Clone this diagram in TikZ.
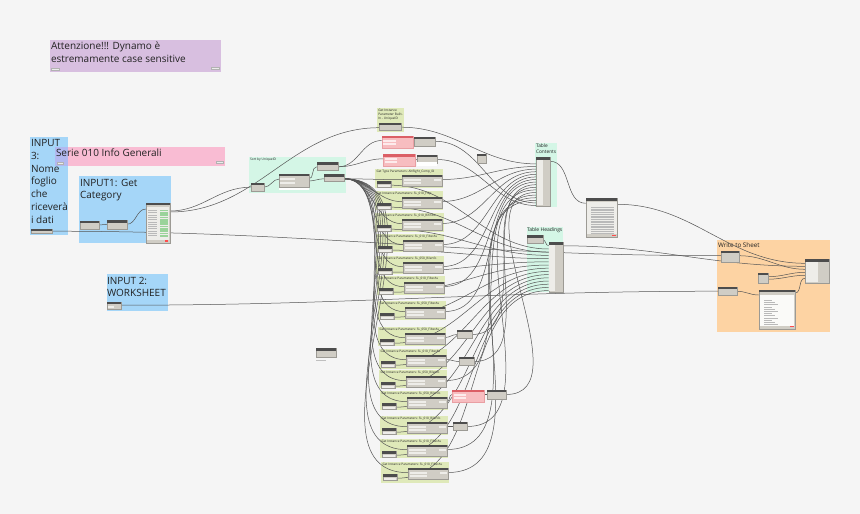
\documentclass[tikz,border=0pt]{standalone}
\usepackage{fontspec}
\setmainfont{Open Sans}
\usetikzlibrary{calc}
\pgfdeclarelayer{bgl}
\pgfdeclarelayer{grp}
\pgfdeclarelayer{wires}
\pgfsetlayers{bgl,grp,wires,main}
\definecolor{bg}{HTML}{F5F5F5}
\definecolor{purp}{HTML}{D8BFE0}
\definecolor{blu}{HTML}{A5D6F8}
\definecolor{pnk}{HTML}{F9BCD3}
\definecolor{ovl}{HTML}{B2B9F0}
\definecolor{mint}{HTML}{D4F6E6}
\definecolor{ygrn}{HTML}{DFE9B9}
\definecolor{orng}{HTML}{FDD3A3}
\definecolor{nbody}{HTML}{D0CDC5}
\definecolor{nhdr}{HTML}{4D4D4D}
\definecolor{fld}{HTML}{EEEDE9}
\definecolor{wirec}{HTML}{555555}
\definecolor{rbody}{HTML}{F7BDC0}
\definecolor{rhdr}{HTML}{DB5F66}
\definecolor{gcell}{HTML}{9AD39A}
\definecolor{txt}{HTML}{222222}
\newcommand\dynnode[5]{%
  \node[dnode, anchor=north west, minimum width={(#4)*1pt}, minimum height={(#5)*1pt}] (#1) at ({#2},{#3}) {};
  \fill[nhdr] (#1.north west) rectangle ([yshift=-2.2pt]#1.north east);
}
\newcommand\rednode[5]{%
  \node[dnode, fill=rbody, draw=rhdr!60, anchor=north west, minimum width={(#4)*1pt}, minimum height={(#5)*1pt}] (#1) at ({#2},{#3}) {};
  \fill[rhdr] (#1.north west) rectangle ([yshift=-2.2pt]#1.north east);
  \fill[white!70!rbody] ([xshift=1.5pt,yshift=-3.6pt]#1.north west) rectangle ([xshift=14pt,yshift=-5.6pt]#1.north west);
  \fill[white!70!rbody] ([xshift=1.5pt,yshift=-6.6pt]#1.north west) rectangle ([xshift=14pt,yshift=-8.6pt]#1.north west);
}
\newcommand\ygroup[6]{%
  \begin{pgfonlayer}{grp}
    \fill[ygrn] ({#2},{#3}) rectangle ({#4},{#5});
    \node[gtitle, font=\fontsize{3.1}{3.7}\selectfont] (#1t) at ({#2+1.5},{#3+1.6}) {#6};
  \end{pgfonlayer}
  \dynnode{#1b}{#2+27}{#3+6}{40}{11}
  \fill[fld] ([xshift=1.5pt,yshift=-3.6pt]#1b.north west) rectangle ([xshift=19pt,yshift=-5.8pt]#1b.north west);
  \fill[fld] ([xshift=1.5pt,yshift=-6.8pt]#1b.north west) rectangle ([xshift=19pt,yshift=-9pt]#1b.north west);
  \fill[fld] ([xshift=-8pt,yshift=-3.6pt]#1b.north east) rectangle ([xshift=-1.5pt,yshift=-5.6pt]#1b.north east);
  \dynnode{#1s}{#2+2}{#3+12}{14}{6.5}
  \fill[nhdr] (#1s.north west) rectangle ([yshift=-3pt]#1s.north east);
  \fill[fld] ([xshift=0.8pt,yshift=-3.8pt]#1s.north west) rectangle ([xshift=-0.8pt,yshift=-5.8pt]#1s.north east);
}
\begin{document}
\begin{tikzpicture}[x=1pt,y=-1pt,
  dnode/.style={rectangle, fill=nbody, draw=nbody!75!black, line width=0.2pt, inner sep=0pt, outer sep=0pt},
  wire/.style={draw=wirec, line width=0.5pt},
  gtitle/.style={inner sep=0pt, outer sep=0pt, anchor=north west, align=left, text=txt},
  bigtxt/.style={gtitle, font=\fontsize{10}{12.6}\selectfont},
  tinybox/.style={fill=white!85!gray, draw=gray!60, line width=0.2pt}
]
\begin{pgfonlayer}{bgl}
\fill[bg] (0,0) rectangle (860,514);
\end{pgfonlayer}
\useasboundingbox (0,0) rectangle (860,514);

% ---------------- groups ----------------
\begin{pgfonlayer}{grp}
\fill[purp] (50,40) rectangle (220.5,72.3);
\filldraw[tinybox] (51.3,67.7) rectangle (59.3,69.7);
\filldraw[tinybox] (211,66.7) rectangle (219,68.9);
\node[bigtxt, font=\fontsize{10}{12.4}\selectfont] (attn) at (51,42.3) {Attenzione!!! Dynamo è\\estremamente case sensitive};

\fill[blu] (30,137.3) rectangle (67.7,234.7);
\fill[pnk] (55,146.7) rectangle (225,166);
\fill[ovl] (55,146.7) rectangle (67.7,166);
\filldraw[tinybox] (56.7,162.3) rectangle (63.3,164.3);
\filldraw[tinybox] (216,161) rectangle (223,163);
\node[bigtxt, font=\fontsize{10}{12.8}\selectfont] (in3t) at (31,139.3) {INPUT\\3:\\Nome\\foglio\\che\\riceverà\\i dati};
\node[bigtxt] (seriet) at (56,149) {Serie 010 Info Generali};

\fill[blu] (79.3,175.7) rectangle (170.7,243.3);
\node[bigtxt, font=\fontsize{10}{12.4}\selectfont] (in1t) at (80,179) {INPUT1: Get\\Category};

\fill[blu] (106.7,274) rectangle (167.7,310.7);
\node[bigtxt, font=\fontsize{10}{11.8}\selectfont] (in2t) at (107,277) {INPUT 2:\\WORKSHEET};

\fill[mint] (249,157) rectangle (346,193);
\node[gtitle, font=\fontsize{3.3}{4}\selectfont] (sortt) at (250,158) {Sort by UniqueID};

\fill[ygrn] (377,108.3) rectangle (404,131.7);
\node[gtitle, font=\fontsize{3.2}{4}\selectfont] (ut) at (378.3,109.5) {Get Instance\\Parameter Built-\\In - UniqueID};

\fill[mint] (535,143) rectangle (557,207);
\node[gtitle, font=\fontsize{4.8}{6}\selectfont] (tct) at (536,144) {Table\\Contents};

\fill[mint] (526.7,226.7) rectangle (563.3,292.3);
\node[gtitle, font=\fontsize{5}{6}\selectfont] (tht) at (527,228) {Table Headings};

\fill[orng] (717,240) rectangle (830,332);
\node[gtitle, font=\fontsize{6.3}{7}\selectfont] (wt) at (718,242.3) {Write to Sheet};
\end{pgfonlayer}

% ---------------- yellow groups ----------------
\ygroup{A}{375}{169}{443}{188}{Get Type Parameters: AltRight\_Comp\_ID}
\ygroup{B}{375}{191}{443}{210}{Get Instance Parameters: SL\_010\_Filtp}
\ygroup{C}{375}{213}{444}{232}{Get Instance Parameters: SL\_010\_RifinRo}
\ygroup{D}{376}{234}{444}{252}{Get Instance Parameters: SL\_010\_FilterAs}
\ygroup{E}{376}{256}{444}{274}{Get Instance Parameters: SL\_050\_Rilenfo}
\ygroup{F}{377}{276}{445}{295}{Get Instance Parameters: SL\_010\_FilterAs}
\ygroup{G}{378}{301}{446}{320}{Get Instance Parameters: SL\_050\_FilterAs}
\ygroup{H}{378}{327}{446}{346}{Get Instance Parameters: SL\_050\_FilterAs}
\ygroup{I}{379}{349}{447}{369}{Get Instance Parameters: SL\_010\_FilterAs}
\ygroup{J}{379}{370}{447}{388}{Get Instance Parameters: SL\_050\_Rilenfo}
\ygroup{K}{380}{391}{448}{410}{Get Instance Parameters: SL\_050\_Rilenfo}
\ygroup{L}{380}{416}{448}{435}{Get Instance Parameters: SL\_010\_Rilenfo}
\ygroup{M}{380}{439}{448}{458}{Get Instance Parameters: SL\_010\_FilterAs}
\ygroup{N}{381}{462}{449}{483}{Get Instance Parameters: SL\_010\_FilterAs}

% ---------------- nodes ----------------
\dynnode{in3}{31}{228.7}{20.7}{4.6}
\dynnode{c1}{80}{221}{19.3}{8.3}
\dynnode{c2}{107.3}{220.3}{19.4}{8.7}
\dynnode{W1}{146}{203}{24}{40.3}
\fill[fld] ([xshift=0.8pt,yshift=-4pt]W1.north west) rectangle ([xshift=-0.8pt,yshift=3pt]W1.south east);
\foreach \r in {0,...,11}{
  \fill[gray!55] ({148},{210+\r*2.3}) rectangle ({157},{211+\r*2.3});
  \fill[gcell] ({160},{209.6+\r*2.3}) rectangle ({168},{211.3+\r*2.3});
}
\fill[red!70] (165,240.3) rectangle (168,241.8);
\dynnode{i2}{107.3}{301.7}{13.7}{7.6}
\fill[fld] ([xshift=0.8pt,yshift=-3.8pt]i2.north west) rectangle ([xshift=7pt,yshift=-5.8pt]i2.north west);

\dynnode{s1}{250.7}{182.7}{13.3}{8}
\dynnode{s2}{279.3}{174}{29.4}{13.3}
\fill[fld] ([xshift=1pt,yshift=-4pt]s2.north west) rectangle ([xshift=16pt,yshift=-6pt]s2.north west);
\fill[fld] ([xshift=1pt,yshift=-7.5pt]s2.north west) rectangle ([xshift=16pt,yshift=-9.5pt]s2.north west);
\fill[white] (279.3,187.6) rectangle (308.7,190.3);
\dynnode{s3}{316.7}{162.3}{21.6}{7.7}
\dynnode{s4}{324}{174.3}{20.3}{6.7}

\dynnode{Ub}{379.3}{122.7}{22}{7.3}
\rednode{r1}{381.7}{136}{31.6}{12.5}
\dynnode{b1}{414}{136.7}{20.7}{9}
\rednode{r2}{383.3}{154.3}{32}{11.4}
\dynnode{b2}{416.7}{155}{20.3}{8}
\fill[white] (416.7,161.5) rectangle (437,165.7);
\dynnode{x1}{477.3}{154}{8.7}{8.7}
\dynnode{x2}{315.7}{348.3}{20.3}{8.4}
\fill[gray!50] (316,359.5) rectangle (326,360.2);

\dynnode{na}{457}{330}{15}{8}
\dynnode{nb}{459}{357}{15}{8.5}
\rednode{rd}{452}{390}{32}{12}
\dynnode{dk}{487}{390}{19}{9}
\dynnode{nc}{453}{422}{14}{8}

\dynnode{TC}{536}{157.3}{14}{48.7}
\fill[fld] ([xshift=0.6pt,yshift=-3pt]TC.north west) rectangle ([xshift=7pt,yshift=1pt]TC.south west);
\dynnode{th0}{526.7}{235.3}{16}{8}
\dynnode{TH}{548.7}{242.3}{14}{50}
\fill[fld] ([xshift=0.6pt,yshift=-3pt]TH.north west) rectangle ([xshift=6.5pt,yshift=1pt]TH.south west);
\dynnode{tbl}{585.7}{198.3}{31.6}{39}
\fill[fld] ([xshift=0.8pt,yshift=-4pt]tbl.north west) rectangle ([xshift=-0.8pt,yshift=3pt]tbl.south east);
\foreach \r in {0,...,15}{
  \fill[gray!55] ({591},{207+\r*1.7}) rectangle ({614},{207.6+\r*1.7});
}
\fill[red!70] (612,234.6) rectangle (615.5,235.8);

\dynnode{w1}{721}{250.7}{18.3}{11}
\dynnode{w2}{805}{259.3}{24}{23.4}
\fill[fld] ([xshift=0.6pt,yshift=-3pt]w2.north west) rectangle ([xshift=13pt,yshift=1pt]w2.south west);
\dynnode{w3}{758.3}{272.7}{10}{10.6}
\dynnode{w4}{718.3}{286.7}{18.4}{8.3}
\dynnode{w5}{758.7}{290}{36.3}{39.3}
\fill[white!70!fld] ([xshift=0.8pt,yshift=-5pt]w5.north west) rectangle ([xshift=-0.8pt,yshift=3pt]w5.south east);
\foreach \r in {0,...,11}{
  \fill[gray!55] ({764},{300+\r*2.2}) rectangle ({772+mod(\r,3)*3},{300.6+\r*2.2});
}
\fill[red!70] (790,326.2) rectangle (793.5,327.4);

% ---------------- wires ----------------
\begin{pgfonlayer}{wires}
\draw[wire] ([yshift=-4pt]c1.north east) to[out=0,in=180] ([yshift=-4pt]c2.north west);
\draw[wire] ([yshift=-4pt]c2.north east) to[out=0,in=180] ([yshift=-6pt]W1.north west);
\draw[wire] ([yshift=-8pt]W1.north east) to[out=0,in=180] ([yshift=-4.5pt]s1.north west);
\draw[wire] ([yshift=-9pt]W1.north east) to[out=0,in=180] ([yshift=-5pt]Ub.north west);
\draw[wire] ([yshift=-2.5pt]in3.north east) to[out=0,in=180] ([yshift=-5pt]w1.north west);
\draw[wire] ([yshift=-3.5pt]i2.north east) to[out=0,in=180] ([yshift=-4.5pt]w4.north west);
\draw[wire] ([yshift=-4.5pt]s1.north east) to[out=0,in=180] ([yshift=-5pt]s2.north west);
\draw[wire] ([yshift=-5pt]s2.north east) to[out=0,in=180] ([yshift=-4.5pt]s3.north west);
\draw[wire] ([yshift=-7pt]s2.north east) to[out=0,in=180] ([yshift=-4.5pt]s4.north west);
\foreach \g in {A,B,C,D,E,F,G,H,I,J,K,L,M,N}{
  \draw[wire] ([yshift=-4.5pt]s4.north east) to[out=0,in=180] ([yshift=-4.7pt]\g b.north west);
}
\draw[wire] ([yshift=-4.5pt]s3.north east) to[out=0,in=180] ([yshift=-4.5pt]r1.north west);
\draw[wire] ([yshift=-4.5pt]s3.north east) to[out=0,in=180] ([yshift=-4.5pt]r2.north west);
\draw[wire] ([yshift=-4.5pt]r1.north east) to[out=0,in=180] ([yshift=-5pt]b1.north west);
\draw[wire] ([yshift=-4.5pt]r2.north east) to[out=0,in=180] ([yshift=-5pt]b2.north west);
\draw[wire] ([yshift=-4.5pt]Ub.north east) to[out=0,in=180] ([yshift=-6.6pt]TC.north west);
\foreach \g/\p in {A/2,B/3,C/4,D/5,E/6,F/7,G/8,J/11,M/14,N/15}{
  \draw[wire] ([yshift=-4.5pt]\g b.north east) to[out=0,in=180] ([yshift={-(4+\p*2.6)*1pt}]TC.north west);
}
\draw[wire] ([yshift=-4.5pt]Hb.north east) to[out=0,in=180] ([yshift=-4.5pt]na.north west);
\draw[wire] ([yshift=-4.5pt]na.north east) to[out=0,in=180] ([yshift={-(4+9*2.6)*1pt}]TC.north west);
\draw[wire] ([yshift=-4.5pt]Ib.north east) to[out=0,in=180] ([yshift=-4.5pt]nb.north west);
\draw[wire] ([yshift=-4.5pt]nb.north east) to[out=0,in=180] ([yshift={-(4+10*2.6)*1pt}]TC.north west);
\draw[wire] ([yshift=-4.5pt]Kb.north east) to[out=0,in=180] ([yshift=-4.5pt]rd.north west);
\draw[wire] ([yshift=-4.5pt]rd.north east) to[out=0,in=180] ([yshift=-4.5pt]dk.north west);
\draw[wire] ([yshift=-4.5pt]dk.north east) to[out=0,in=180] ([yshift={-(4+12*2.6)*1pt}]TC.north west);
\draw[wire] ([yshift=-4.5pt]Lb.north east) to[out=0,in=180] ([yshift=-4.5pt]nc.north west);
\draw[wire] ([yshift=-4.5pt]nc.north east) to[out=0,in=180] ([yshift={-(4+13*2.6)*1pt}]TC.north west);
\draw[wire] ([yshift=-4.5pt]b1.north east) to[out=0,in=180] ([yshift={-(4+16*2.6)*1pt}]TC.north west);
\draw[wire] ([yshift=-4.5pt]b2.north east) to[out=0,in=180] ([yshift={-(4+17*2.6)*1pt}]TC.north west);
\foreach \g [count=\k] in {A,B,C,D,E,F,G,H,I,J,K,L,M,N}{
  \draw[wire] ([yshift=-4.2pt]\g s.north east) to[out=0,in=180] ([yshift={-(3.5+\k*3.2)*1pt}]TH.north west);
}
\draw[wire] ([yshift=-4.5pt]th0.north east) to[out=0,in=180] ([yshift=-3.5pt]TH.north west);
\draw[wire] ([yshift=-4pt]TC.north east) to[out=0,in=180] ([yshift=-5pt]tbl.north west);
\draw[wire] ([yshift=-6pt]tbl.north east) to[out=0,in=180] ([yshift=-4pt]w2.north west);
\draw[wire] ([yshift=-3.5pt]TH.north east) to[out=0,in=180] ([yshift=-7pt]w2.north west);
\draw[wire] ([yshift=-5pt]w1.north east) to[out=0,in=180] ([yshift=-10pt]w2.north west);
\draw[wire] ([yshift=-4pt]w3.north east) to[out=0,in=180] ([yshift=-13pt]w2.north west);
\draw[wire] ([yshift=-6.5pt]w3.north east) to[out=0,in=180] ([yshift=-16pt]w2.north west);
\draw[wire] ([yshift=-4.5pt]w4.north east) to[out=0,in=180] ([yshift=-5pt]w5.north west);
\draw[wire] ([yshift=-3pt]w5.north east) to[out=0,in=180] ([yshift=-19pt]w2.north west);
\end{pgfonlayer}
\end{tikzpicture}
\end{document}
